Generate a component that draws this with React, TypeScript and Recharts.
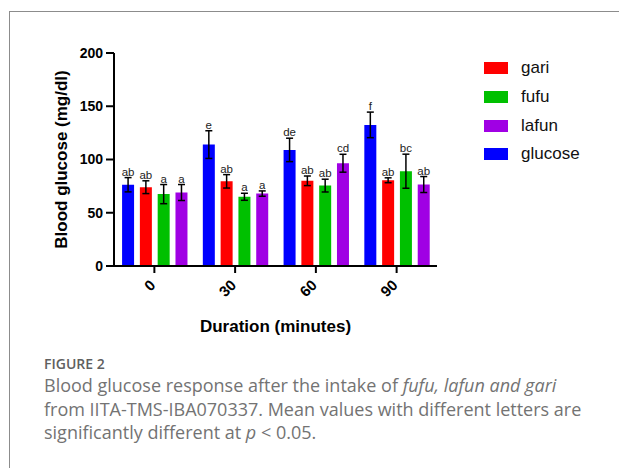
import React from "react";
import { BarChart, Bar, XAxis, YAxis, ErrorBar, LabelList } from "recharts";

const categories = ["0", "30", "60", "90"];

const glucose = [76.3, 114, 109, 132.5];
const glucoseErr = [6.7, 13, 11, 12];
const glucoseSig = ["ab", "e", "de", "f"];

const gari = [74, 79.5, 80, 80.5];
const gariErr = [6, 6.3, 4.5, 2.3];
const gariSig = ["ab", "ab", "ab", "ab"];

const fufu = [67.5, 65, 75.5, 89];
const fufuErr = [9, 3.3, 6, 16];
const fufuSig = ["a", "a", "ab", "bc"];

const lafun = [69, 68, 96.5, 76.5];
const lafunErr = [7.5, 2.5, 8.4, 7.5];
const lafunSig = ["a", "a", "cd", "ab"];

const yTicks = [0, 50, 100, 150, 200];

// bar order in the plot: glucose, gari, fufu, lafun
const series = [
  { key: "glucose", name: "glucose", color: "#0000ff", values: glucose, errs: glucoseErr, sig: glucoseSig },
  { key: "gari", name: "gari", color: "#ff0000", values: gari, errs: gariErr, sig: gariSig },
  { key: "fufu", name: "fufu", color: "#00c000", values: fufu, errs: fufuErr, sig: fufuSig },
  { key: "lafun", name: "lafun", color: "#a000e4", values: lafun, errs: lafunErr, sig: lafunSig },
];

// legend order differs from bar order
const legendOrder = ["gari", "fufu", "lafun", "glucose"];

const data = categories.map((c, i) => {
  const row: any = { time: c };
  series.forEach((s) => {
    row[s.key] = s.values[i];
    row[s.key + "Err"] = s.errs[i];
    row[s.key + "Sig"] = s.sig[i];
  });
  return row;
});

const FONT = "'Liberation Sans', Arial, sans-serif";

const sigLabel = (values: number[], errs: number[]) => (props: any) => {
  const x = Number(props.x);
  const y = Number(props.y);
  const w = Number(props.width);
  const h = Number(props.height);
  const i = props.index;
  const perUnit = h / values[i];
  const top = y - errs[i] * perUnit;
  return (
    <text x={x + w / 2} y={top - 2} textAnchor="middle" fontSize={11.5} fontFamily={FONT} fill="#222">
      {props.value}
    </text>
  );
};

const XTick = (props: any) => {
  const { x, y, payload } = props;
  return (
    <g transform={`translate(${x + 2},${y + 11})`}>
      <text transform="rotate(-45)" textAnchor="end" fontSize={15} fontWeight="bold" fontFamily={FONT} fill="#000">
        {payload.value}
      </text>
    </g>
  );
};

const App = () => {
  return (
    <div style={{ position: "fixed", left: 0, top: 0, width: 619, height: 468, overflow: "hidden", background: "#fff" }}>
      <div
        style={{
          position: "absolute",
          left: 9,
          top: 11,
          width: 700,
          height: 600,
          borderLeft: "1.5px solid #8c8c8c",
          borderTop: "1.5px solid #8c8c8c",
        }}
      />
      <div style={{ position: "absolute", left: 0, top: 0 }}>
        <BarChart
          width={619}
          height={350}
          data={data}
          margin={{ top: 53, right: 182, left: 0, bottom: 0 }}
          barCategoryGap="10%"
          barGap={5.8}
        >
          <XAxis
            dataKey="time"
            interval={0}
            height={84}
            tickSize={7}
            axisLine={{ stroke: "#000", strokeWidth: 2 }}
            tickLine={{ stroke: "#000", strokeWidth: 2 }}
            tick={<XTick />}
            label={{
              content: (p: any) => {
                const vb = p.viewBox;
                return (
                  <text x={vb.x + vb.width / 2} y={332} textAnchor="middle" fontSize={17} fontWeight="bold" fontFamily={FONT} fill="#000">
                    Duration (minutes)
                  </text>
                );
              },
            }}
          />
          <YAxis
            width={114}
            domain={[0, 200]}
            ticks={yTicks}
            interval={0}
            tickSize={8}
            tickMargin={3}
            axisLine={{ stroke: "#000", strokeWidth: 2 }}
            tickLine={{ stroke: "#000", strokeWidth: 2 }}
            tick={{ fontSize: 14, fontWeight: "bold", fontFamily: FONT, fill: "#000" }}
            label={{
              content: (p: any) => {
                const vb = p.viewBox;
                return (
                  <text
                    transform={`translate(67,${vb.y + vb.height / 2}) rotate(-90)`}
                    textAnchor="middle"
                    fontSize={17}
                    fontWeight="bold"
                    fontFamily={FONT}
                    fill="#000"
                  >
                    Blood glucose (mg/dl)
                  </text>
                );
              },
            }}
          />
          {series.map((s) => (
            <Bar key={s.key} dataKey={s.key} name={s.name} fill={s.color} isAnimationActive={false}>
              <ErrorBar dataKey={s.key + "Err"} width={3.5} stroke="#000" strokeWidth={1.5} direction="y" />
              <LabelList dataKey={s.key + "Sig"} content={sigLabel(s.values, s.errs)} />
            </Bar>
          ))}
        </BarChart>
      </div>

      <div style={{ position: "absolute", left: 484, top: 54, fontFamily: FONT }}>
        {legendOrder.map((k) => {
          const s = series.find((q) => q.key === k)!;
          return (
            <div key={k} style={{ display: "flex", alignItems: "center", height: 28.7 }}>
              <div style={{ width: 24, height: 12, background: s.color }} />
              <span style={{ marginLeft: 13, fontSize: 17, color: "#111" }}>{s.name}</span>
            </div>
          );
        })}
      </div>

      <div style={{ position: "absolute", left: 44, top: 354, fontFamily: "'Open Sans', Lato, sans-serif", color: "#737373" }}>
        <div style={{ fontSize: 14, fontWeight: 600, color: "#606060" }}>FIGURE 2</div>
        <div style={{ fontSize: 18, lineHeight: "23.5px", marginTop: 1, whiteSpace: "nowrap" }}>
          Blood glucose response after the intake of <i>fufu, lafun and gari</i>
          <br />
          from IITA-TMS-IBA070337. Mean values with different letters are
          <br />
          significantly different at <i>p</i> &lt; 0.05.
        </div>
      </div>
    </div>
  );
};

export default App;
